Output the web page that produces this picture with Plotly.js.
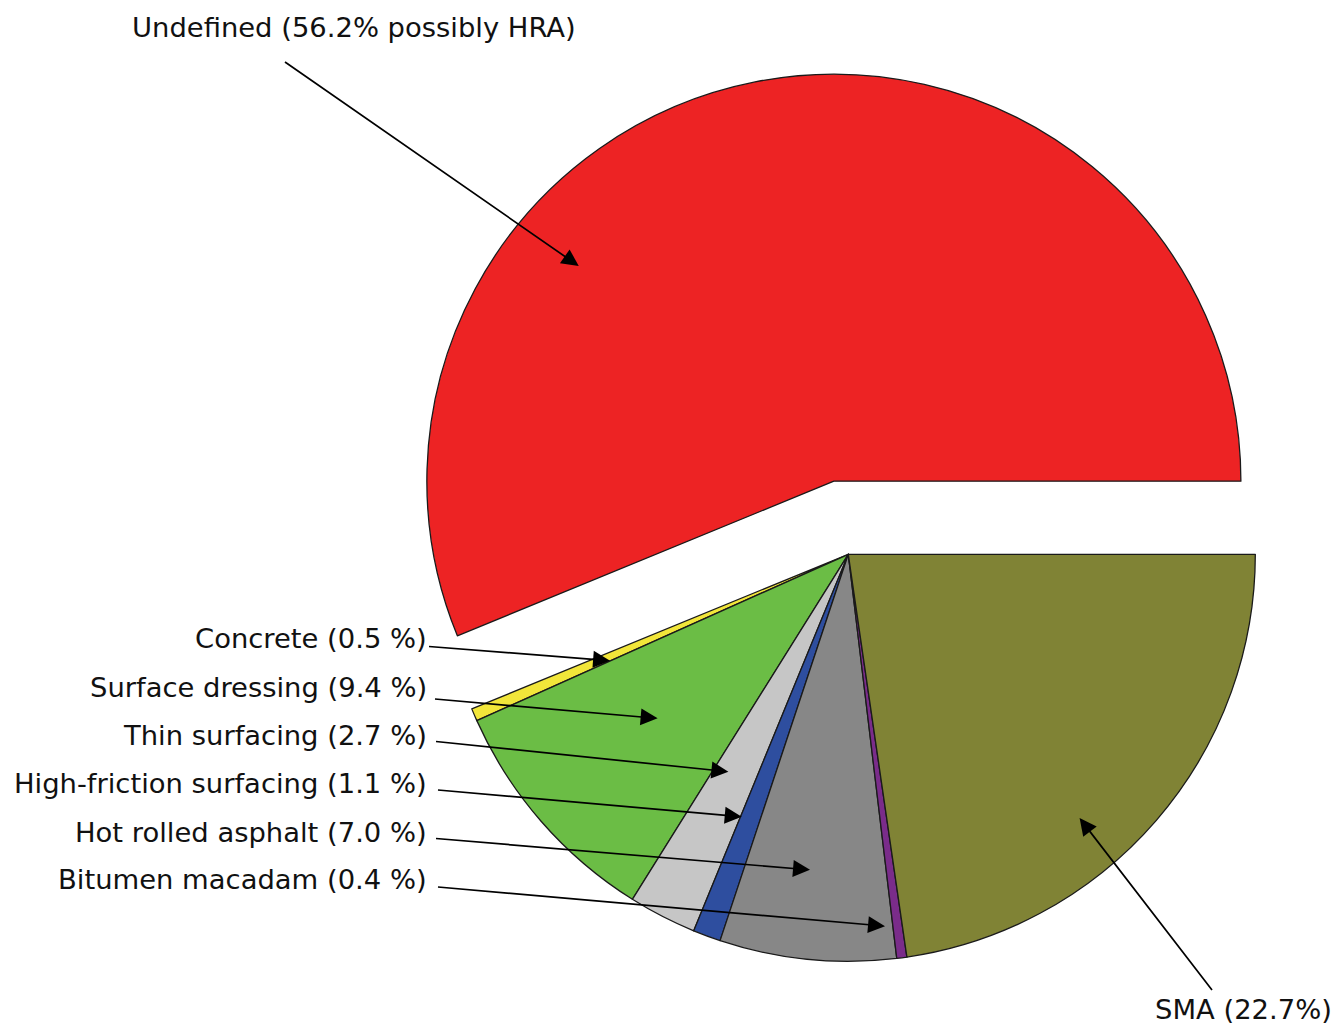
<!DOCTYPE html>
<html>
<head>
<meta charset="utf-8">
<script src="https://cdn.plot.ly/plotly-3.0.1.min.js"></script>
<style>
  html, body { margin: 0; padding: 0; background: #ffffff; overflow: hidden; }
  #wrap { width: 1338px; height: 1026px; overflow: hidden; }
  #chart { width: 1338px; height: 1040px; }
</style>
</head>
<body>
<div id="wrap"><div id="chart"></div></div>
<script>
// ---- data ----
const categories = ['Undefined', 'Concrete', 'Surface dressing', 'Thin surfacing',
                    'High-friction surfacing', 'Hot rolled asphalt', 'Bitumen macadam', 'SMA'];
const shares = [56.2, 0.5, 9.4, 2.7, 1.1, 7.0, 0.4, 22.7];
const labelTexts = ['Undefined (56.2% possibly HRA)', 'Concrete (0.5 %)', 'Surface dressing (9.4 %)',
                    'Thin surfacing (2.7 %)', 'High-friction surfacing (1.1 %)', 'Hot rolled asphalt (7.0 %)',
                    'Bitumen macadam (0.4 %)', 'SMA (22.7%)'];

// ---- style / layout settings ----
const colors = ['#ED2324', '#F2E63A', '#6BBD45', '#C6C6C6', '#2E4E9F', '#878787', '#7A2C8A', '#808335'];
const pulls = [0.183, 0, 0, 0, 0, 0, 0, 0];
const W = 1338, H = 1040;
const dom = { x: [366.8 / W, 1329.8 / W], y: [(H - 1035.8) / H, (H - 72.8) / H] };
const FONT = 'DejaVu Sans, Verdana, sans-serif';
const FS = 27.4;

// label placement (pixels): text anchor, arrow tail, pointer (angle offset deg, radius fraction)
const labelPlace = [
  { x: 131.7, y: 27.5, anchor: 'left',  tail: [285, 62],    dAng: 38.7,  frac: 0.82 },
  { x: 427,   y: 638.8, anchor: 'right', tail: [429, 646.5], dAng: 0.84,  frac: 0.641 },
  { x: 427,   y: 687.0, anchor: 'right', tail: [435, 699],   dAng: -0.33, frac: 0.618 },
  { x: 427,   y: 735.5, anchor: 'right', tail: [436, 741.5], dAng: -1.7,  frac: 0.610 },
  { x: 427,   y: 783.8, anchor: 'right', tail: [438, 790],   dAng: -1.76, frac: 0.696 },
  { x: 427,   y: 832.2, anchor: 'right', tail: [436, 838.5], dAng: -1.16, frac: 0.781 },
  { x: 427,   y: 879.7, anchor: 'right', tail: [438, 887],   dAng: -1.92, frac: 0.918 },
  { x: 1155,  y: 1009.3, anchor: 'left', tail: [1212, 990],  dAng: -7.9,  frac: 0.862 }
];

// ---- pie geometry (same rules Plotly uses to lay out the pie) ----
const maxPull = Math.max.apply(null, pulls);
const dw = W * (dom.x[1] - dom.x[0]), dh = H * (dom.y[1] - dom.y[0]);
const R = Math.min(dw, dh) / (2 + 2 * maxPull);
const CX = W * (dom.x[0] + dom.x[1]) / 2;
const CY = H * (1 - dom.y[0]) - dh / 2;
const total = shares.reduce((a, b) => a + b, 0);
// first slice runs counter-clockwise from 3 o'clock; Plotly's rotation marks its far edge
const rotation = 90 - shares[0] / total * 360;

const annotations = [];
let cum = 0;
shares.forEach((v, i) => {
  const mid = (cum + v / 2) / total * 2 * Math.PI; // counter-clockwise from 3 o'clock
  cum += v;
  const p = labelPlace[i];
  const ox = pulls[i] * R * Math.cos(mid), oy = -pulls[i] * R * Math.sin(mid);
  const th = mid + p.dAng * Math.PI / 180;
  const hx = CX + ox + p.frac * R * Math.cos(th);
  const hy = CY + oy - p.frac * R * Math.sin(th);
  // arrow
  annotations.push({
    xref: 'paper', yref: 'paper', x: hx / W, y: 1 - hy / H,
    axref: 'pixel', ayref: 'pixel', ax: p.tail[0] - hx, ay: p.tail[1] - hy,
    text: ' ', font: { size: 1 }, showarrow: true,
    arrowhead: 2, arrowsize: 2, arrowwidth: 1.7, arrowcolor: '#000000',
    borderpad: 0, borderwidth: 0
  });
  // label text
  annotations.push({
    xref: 'paper', yref: 'paper', x: p.x / W, y: 1 - p.y / H,
    xanchor: p.anchor, yanchor: 'middle', showarrow: false,
    text: labelTexts[i], font: { family: FONT, size: FS, color: '#111111' },
    borderpad: 0, borderwidth: 0
  });
});

const trace = {
  type: 'pie',
  labels: categories,
  values: shares,
  sort: false,
  direction: 'counterclockwise',
  rotation: rotation,
  pull: pulls,
  textinfo: 'none',
  hoverinfo: 'none',
  domain: dom,
  marker: { colors: colors, line: { color: '#1a1a1a', width: 1.3 } }
};

const layout = {
  width: W, height: H,
  margin: { l: 0, r: 0, t: 0, b: 0 },
  paper_bgcolor: '#ffffff',
  showlegend: false,
  annotations: annotations
};

Plotly.newPlot('chart', [trace], layout, { staticPlot: true, displayModeBar: false });
</script>
</body>
</html>
